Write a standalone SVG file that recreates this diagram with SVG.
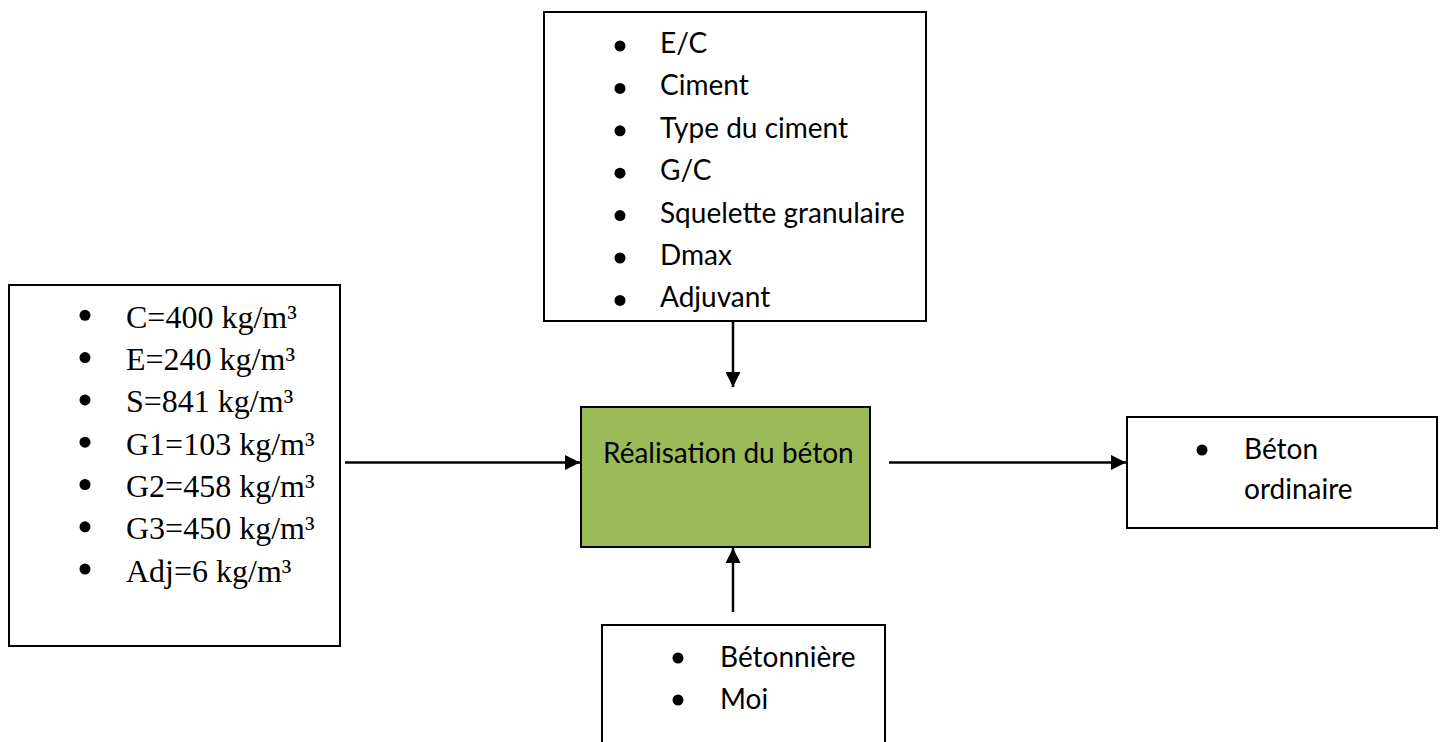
<svg xmlns="http://www.w3.org/2000/svg" width="1445" height="742" viewBox="0 0 1445 742">
<defs>
<marker id="ah" viewBox="0 0 10 10" refX="10" refY="5" markerWidth="6" markerHeight="6" markerUnits="strokeWidth" orient="auto">
<path d="M0,0 L10,5 L0,10 z" fill="#000"/>
</marker>
<style>
.box{fill:#fff;stroke:#000;stroke-width:2}
.main{fill:#9BBB59;stroke:#000;stroke-width:2}
.cal{font-family:Lato,"Open Sans",sans-serif;font-size:28px;fill:#000}
.tms{font-family:"Liberation Serif","Times New Roman",serif;font-size:32px;fill:#000}
.conn{stroke:#000;stroke-width:2.5;fill:none}
</style>
</defs>
<rect width="1445" height="742" fill="#fff"/>
<g id="params">
<rect class="box" x="544" y="12" width="382" height="309"/>
<g fill="#000">
<circle cx="620" cy="46" r="5.5"/><circle cx="620" cy="88.4" r="5.5"/><circle cx="620" cy="130.8" r="5.5"/><circle cx="620" cy="173.2" r="5.5"/><circle cx="620" cy="215.6" r="5.5"/><circle cx="620" cy="258" r="5.5"/><circle cx="620" cy="300.4" r="5.5"/>
</g>
<text class="cal" x="660" y="53">E/C</text>
<text class="cal" x="660" y="95.4">Ciment</text>
<text class="cal" x="660" y="137.8">Type du ciment</text>
<text class="cal" x="660" y="180.2">G/C</text>
<text class="cal" x="660" y="222.6">Squelette granulaire</text>
<text class="cal" x="660" y="265">Dmax</text>
<text class="cal" x="660" y="307.4">Adjuvant</text>
</g>
<g id="dosage">
<rect class="box" x="9" y="285" width="331" height="361"/>
<g fill="#000">
<circle cx="85" cy="315.3" r="5.5"/><circle cx="85" cy="357.6" r="5.5"/><circle cx="85" cy="399.9" r="5.5"/><circle cx="85" cy="442.2" r="5.5"/><circle cx="85" cy="484.5" r="5.5"/><circle cx="85" cy="526.8" r="5.5"/><circle cx="85" cy="569.1" r="5.5"/>
</g>
<text class="tms" x="126" y="327.7">C=400 kg/m³</text>
<text class="tms" x="126" y="370">E=240 kg/m³</text>
<text class="tms" x="126" y="412.3">S=841 kg/m³</text>
<text class="tms" x="126" y="454.6">G1=103 kg/m³</text>
<text class="tms" x="126" y="496.9">G2=458 kg/m³</text>
<text class="tms" x="126" y="539.2">G3=450 kg/m³</text>
<text class="tms" x="126" y="581.5">Adj=6 kg/m³</text>
</g>
<g id="realisation">
<rect class="main" x="581" y="407" width="289" height="140"/>
<text class="cal" x="603" y="463">Réalisation du béton</text>
</g>
<g id="resultat">
<rect class="box" x="1127" y="417" width="310" height="111"/>
<circle cx="1202" cy="450" r="5.5" fill="#000"/>
<text class="cal" x="1244" y="459.3">Béton</text>
<text class="cal" x="1244" y="499.3">ordinaire</text>
</g>
<g id="moyens">
<rect class="box" x="602" y="625" width="283" height="140"/>
<circle cx="678" cy="658" r="5.5" fill="#000"/>
<circle cx="678" cy="700" r="5.5" fill="#000"/>
<text class="cal" x="720" y="667">Bétonnière</text>
<text class="cal" x="720" y="709">Moi</text>
</g>
<g id="connectors">
<line class="conn" x1="733" y1="322" x2="733" y2="387" marker-end="url(#ah)"/>
<line class="conn" x1="345" y1="462.5" x2="580" y2="462.5" marker-end="url(#ah)"/>
<line class="conn" x1="889" y1="462.5" x2="1126" y2="462.5" marker-end="url(#ah)"/>
<line class="conn" x1="733" y1="612" x2="733" y2="548" marker-end="url(#ah)"/>
</g>
</svg>
